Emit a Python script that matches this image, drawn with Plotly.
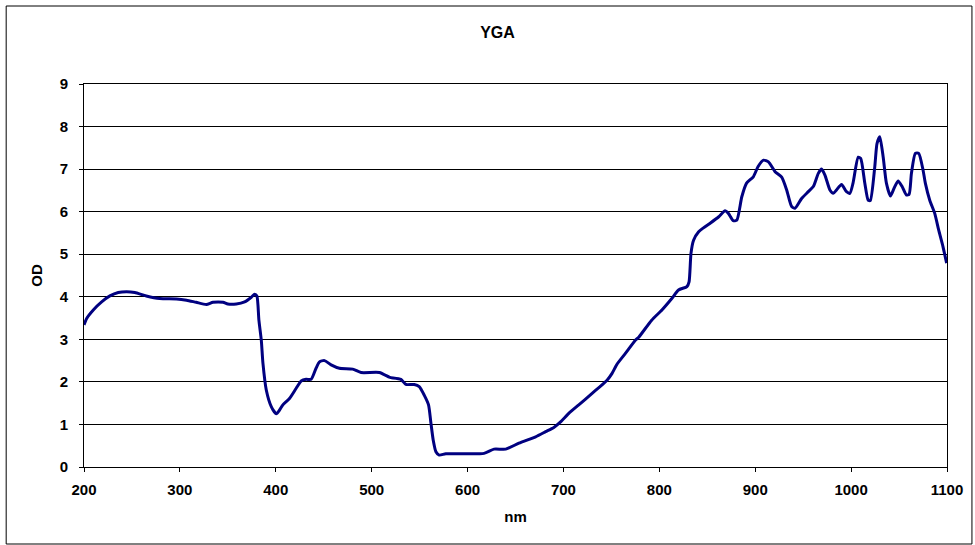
import plotly.graph_objects as go

wavelength_nm = [200, 202.8, 209.7, 218.4, 227, 235.7, 244.4, 253, 265, 279, 296.5, 306.9, 317, 327.6,
                 334.5, 345, 350, 358.8, 367.5, 374.5, 378, 380.3, 382.4, 384.9, 386.6, 390.1, 395.3,
                 400.5, 404, 407.4, 414.3, 421.3, 426.5, 431.7, 436.9, 442, 445.6, 450.8, 457.7, 466.4,
                 480.2, 489, 508, 518.4, 520, 530.5, 535.7, 544.4, 549.6, 554.8, 559.3, 561.8, 564.2,
                 567, 570.4, 577.3, 594.6, 617.2, 627.6, 639.8, 653.6, 671, 681.4, 690, 697, 705.6,
                 716, 729.9, 745.5, 750.7, 756, 764.6, 775, 778.5, 792, 802.7, 813, 820, 828.8, 831,
                 833, 835.7, 841, 846, 853, 862, 868.6, 872, 877, 880.8, 886, 891, 898, 903, 908.6,
                 913.8, 920.7, 927.6, 932.8, 938, 941.5, 948.4, 955.4, 960.6, 965.8, 969.2, 972.7,
                 977.9, 981.4, 984.8, 990, 995.2, 998.7, 1002, 1007.4, 1010, 1014.3, 1017.8, 1020,
                 1024.7, 1027, 1029.9, 1033.4, 1036.8, 1041, 1044.8, 1049, 1053.2, 1057.7, 1060.5,
                 1062.9, 1067, 1070.5, 1075, 1077.4, 1082, 1087.2, 1091.3, 1095.8, 1099.6]
od_values = [3.34, 3.49, 3.69, 3.88, 4.02, 4.1, 4.12, 4.1, 4.02, 3.96, 3.95, 3.92, 3.87, 3.82,
             3.87, 3.87, 3.83, 3.83, 3.88, 3.99, 4.06, 4.02, 3.45, 2.98, 2.44, 1.81, 1.42,
             1.25, 1.34, 1.46, 1.61, 1.85, 2.02, 2.06, 2.06, 2.32, 2.47, 2.5, 2.4, 2.32,
             2.3, 2.22, 2.22, 2.11, 2.1, 2.06, 1.94, 1.94, 1.89, 1.69, 1.46, 1.03, 0.63,
             0.36, 0.28, 0.31, 0.31, 0.32, 0.42, 0.42, 0.56, 0.71, 0.83, 0.93, 1.06, 1.26,
             1.46, 1.73, 2.04, 2.2, 2.42, 2.67, 2.98, 3.05, 3.45, 3.69, 3.96, 4.16, 4.24, 4.35,
             5.02, 5.33, 5.53, 5.62, 5.73, 5.88, 6.02, 5.96, 5.79, 5.8, 6.35, 6.67, 6.82, 7.06, 7.21,
             7.17, 6.94, 6.81, 6.51, 6.12, 6.08, 6.31, 6.47, 6.59, 6.9, 7.0, 6.86,
             6.51, 6.43, 6.51, 6.64, 6.47, 6.43, 6.67, 7.28, 7.25, 6.67, 6.27, 6.26,
             7.06, 7.6, 7.76, 7.29, 6.67, 6.37, 6.55, 6.72, 6.59, 6.39, 6.41,
             6.9, 7.37, 7.37, 6.98, 6.67, 6.27, 5.96, 5.57, 5.18, 4.79]

x_ticks = [200, 300, 400, 500, 600, 700, 800, 900, 1000, 1100]
y_ticks = [0, 1, 2, 3, 4, 5, 6, 7, 8, 9]

FONT = "Liberation Sans, Arial, sans-serif"

fig = go.Figure()
fig.add_trace(go.Scatter(
    x=wavelength_nm, y=od_values, mode="lines",
    line=dict(color="#000080", width=3, shape="spline", smoothing=0.6),
    showlegend=False, hoverinfo="skip",
))

tick_font = dict(family=FONT, size=15, color="black", weight="bold")
title_font = dict(family=FONT, size=15, color="black", weight="bold")

fig.update_layout(
    width=975, height=545,
    margin=dict(l=84, r=26, t=84, b=78),
    paper_bgcolor="white", plot_bgcolor="white",
    title=dict(text="YGA", x=497.5 / 975, xanchor="center", y=1 - 32.5 / 545, yanchor="middle",
               font=dict(family=FONT, size=16, color="black", weight="bold")),
    xaxis=dict(
        range=[200, 1100], tickvals=x_ticks, ticktext=[str(v) for v in x_ticks],
        showgrid=False, zeroline=False, showline=True, linecolor="black", linewidth=1,
        mirror=True, ticks="outside", ticklen=4, tickcolor="black",
        tickfont=tick_font, ticklabelstandoff=5,
        title=dict(text="nm", font=title_font, standoff=14),
    ),
    yaxis=dict(
        range=[0, 9], tickvals=y_ticks, ticktext=[str(v) for v in y_ticks],
        showgrid=True, gridcolor="black", gridwidth=1,
        zeroline=False, showline=True, linecolor="black", linewidth=1,
        mirror=True, ticks="outside", ticklen=4, tickcolor="black",
        tickfont=tick_font, ticklabelstandoff=8,
        title=dict(text="OD", font=title_font, standoff=13),
    ),
    shapes=[dict(type="rect", xref="paper", yref="paper",
                 x0=(6 - 84) / 865, x1=(974 - 84) / 865,
                 y0=(467 - 544) / 383, y1=(467 - 6) / 383,
                 line=dict(color="black", width=1), fillcolor="rgba(0,0,0,0)", layer="below")],
)

fig.write_html("out.html", config={"displayModeBar": False},
               post_script="document.body.style.margin='0';")
